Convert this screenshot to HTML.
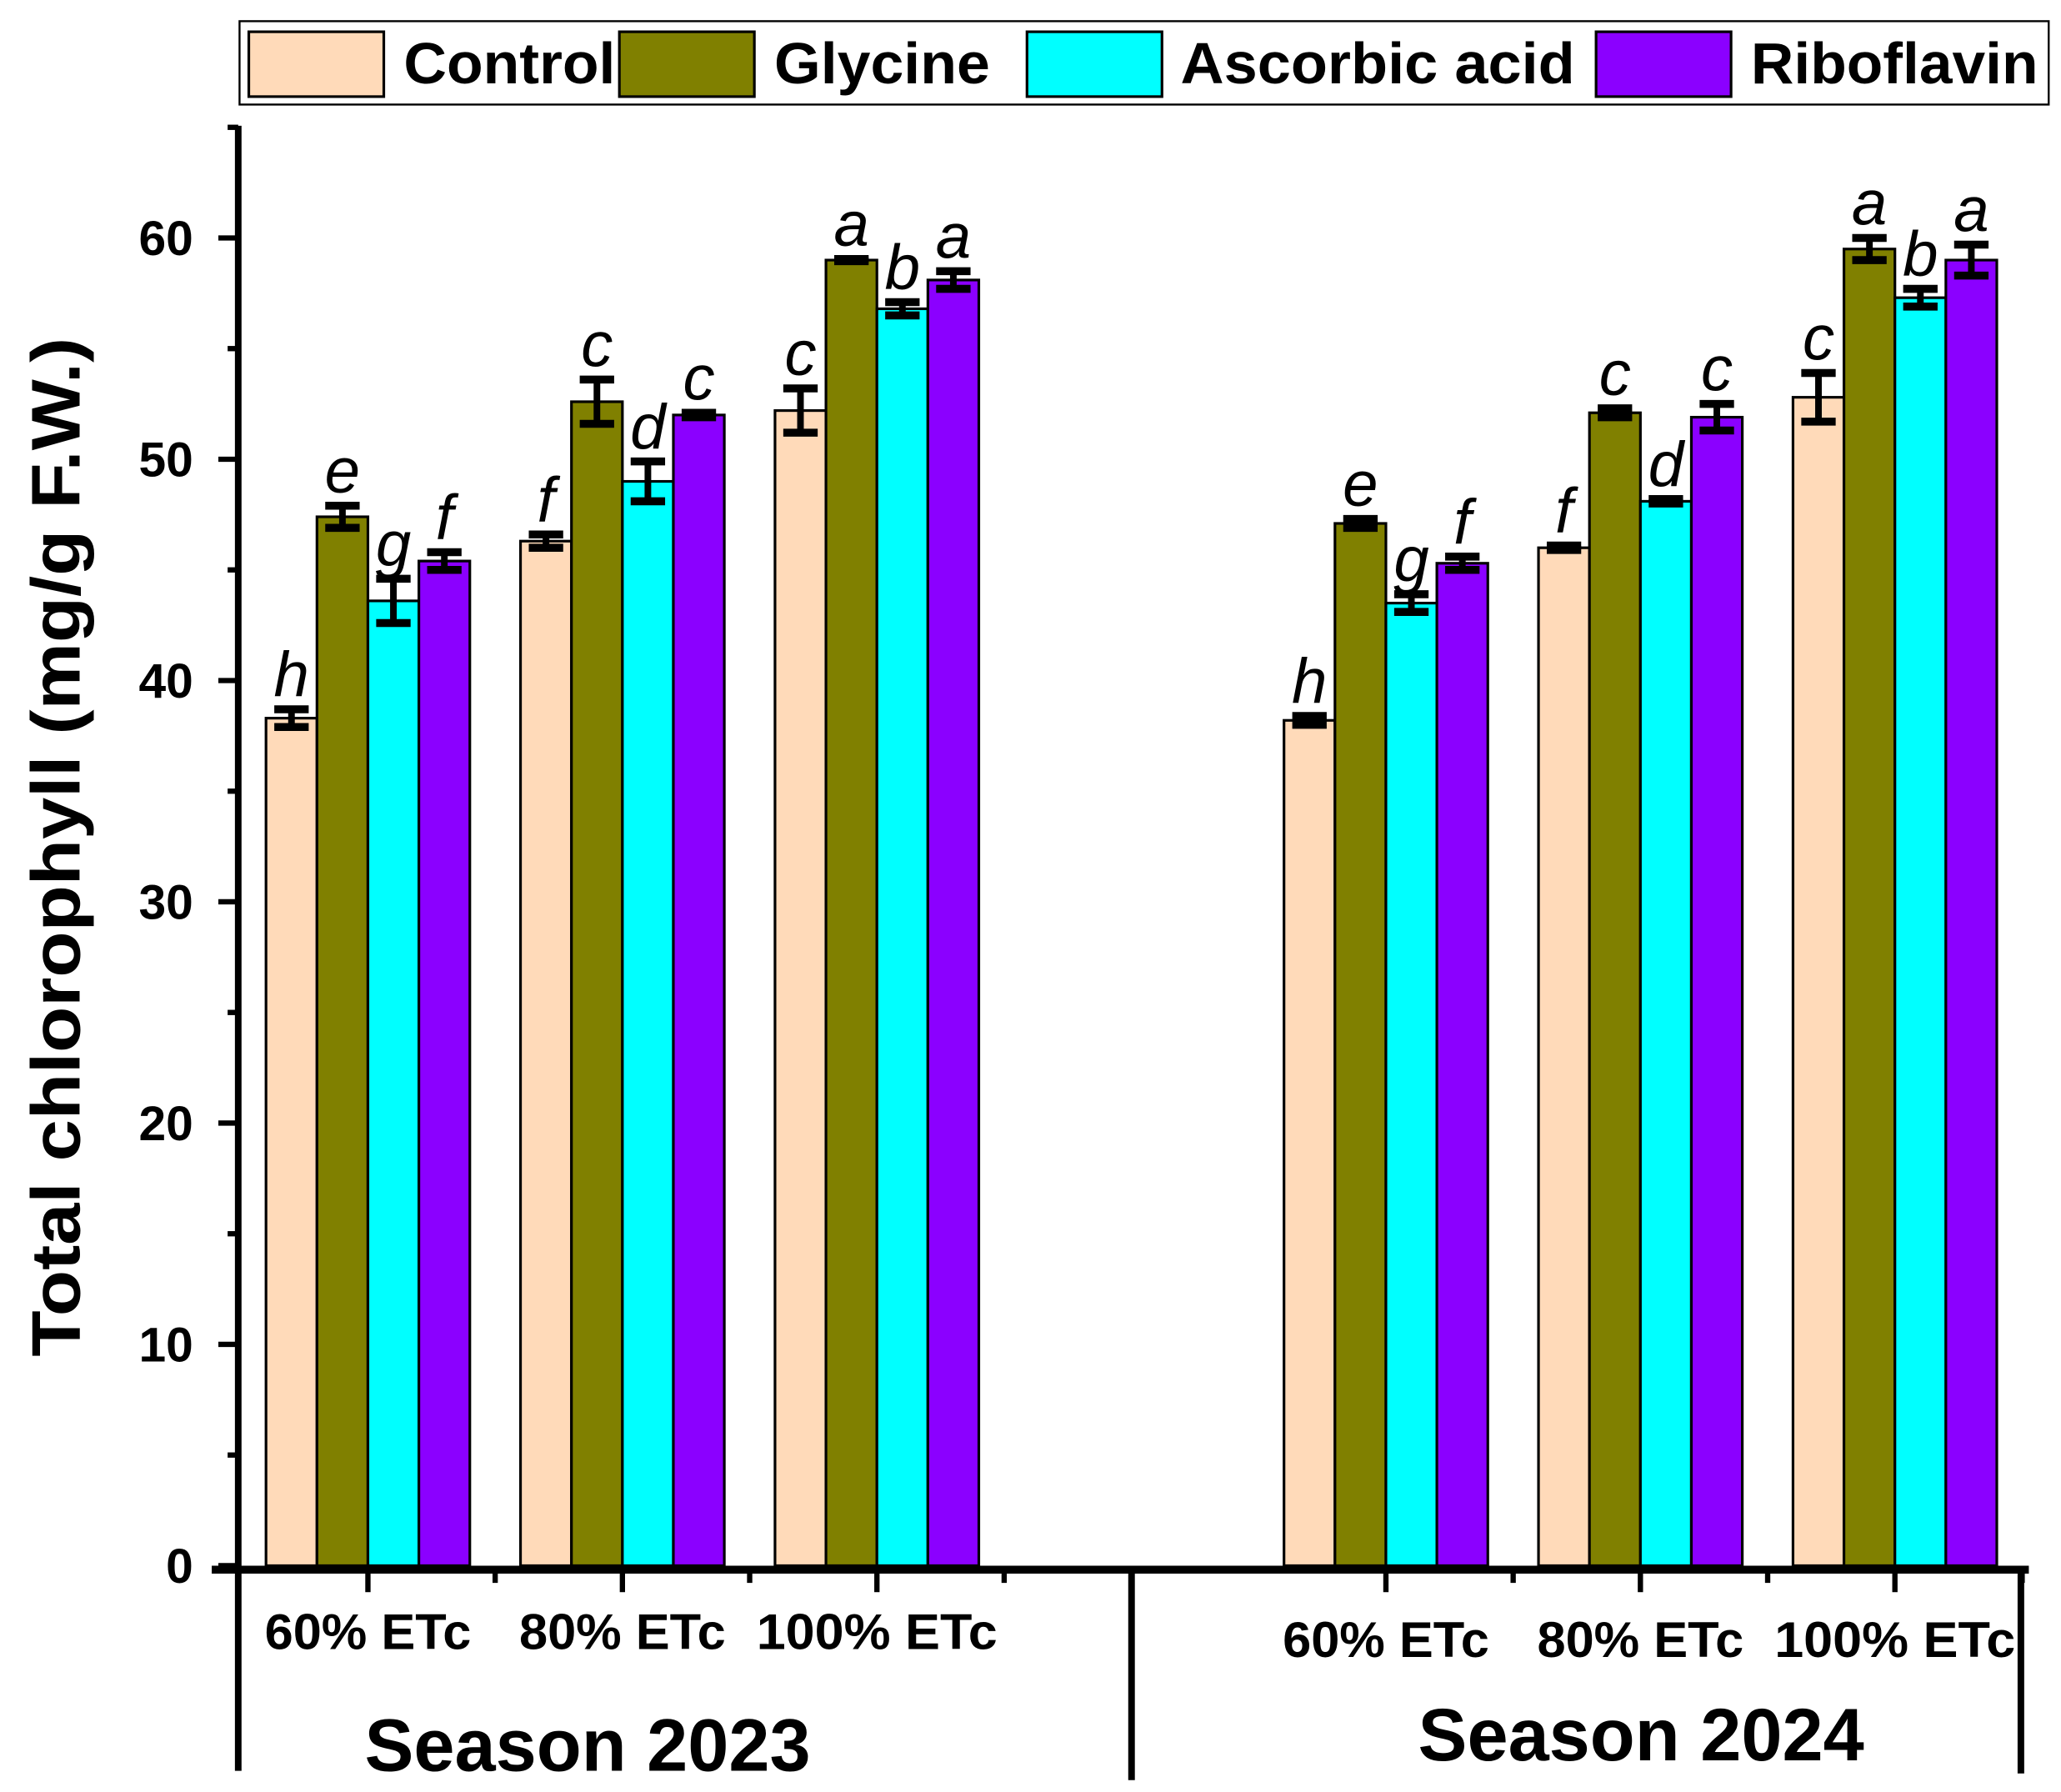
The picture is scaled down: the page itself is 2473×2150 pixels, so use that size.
<!DOCTYPE html>
<html><head><meta charset="utf-8"><style>
html,body{margin:0;padding:0;background:#fff;}
svg{display:block;}
text{font-family:"Liberation Sans",Arial,sans-serif;}
</style></head><body>
<svg id="chart" width="2473" height="2150" viewBox="0 0 1557.3 1354" preserveAspectRatio="none" xmlns="http://www.w3.org/2000/svg"></svg>
<script>
const categories = ["60% ETc","80% ETc","100% ETc"];
const seasons = ["Season 2023","Season 2024"];
const series = ["Control","Glycine","Ascorbic acid","Riboflavin"];
const colors = ["#FFDAB9","#808000","#00FFFF","#8B00FF"];
const values2023 = [[38.3,47.4,43.6,45.4],[46.3,52.6,49.0,52.0],[52.2,59.0,56.8,58.1]];
const errors2023 = [[0.4,0.5,1.0,0.4],[0.3,1.0,0.9,0.1],[1.0,0.05,0.3,0.4]];
const letters2023 = [["h","e","g","f"],["f","c","d","c"],["c","a","b","a"]];
const values2024 = [[38.2,47.1,43.5,45.3],[46.0,52.1,48.1,51.9],[52.8,59.5,57.3,59.0]];
const errors2024 = [[0.2,0.2,0.4,0.3],[0.1,0.2,0.1,0.6],[1.1,0.5,0.4,0.7]];
const letters2024 = [["h","e","g","f"],["f","c","d","c"],["c","a","b","a"]];
const yTicks = [0,10,20,30,40,50,60];

const NS="http://www.w3.org/2000/svg";
const svg=document.getElementById('chart');
function mk(tag,attrs,parent){const e=document.createElementNS(NS,tag);for(const k in attrs)e.setAttribute(k,attrs[k]);(parent||svg).appendChild(e);return e;}
const y0=1183, pxPer=16.72;
function y(v){return y0-v*pxPer;}
const slotW=192.3, firstCenter=278;
function slotCenter(i){return firstCenter+i*slotW;}
const barW=38.5;
const LA='spacingAndGlyphs';

// legend
const lg=mk('g',{});


mk('rect',{x:181,y:16,width:1367,height:63,fill:'#fff',stroke:'#000','stroke-width':1.5},lg);
const legX=[188,468,776,1206];
const legTextX=[305,585,892,1323];
const legTextW=[160,163,298,217];
series.forEach((s,i)=>{
  const g=mk('g',{},lg);
  
  
  mk('rect',{x:legX[i],y:24,width:102,height:49,fill:colors[i],stroke:'#000','stroke-width':2},g);
  const t=mk('text',{x:legTextX[i],y:63,'font-size':44,'font-weight':'bold',textLength:legTextW[i],lengthAdjust:LA},g);
  t.textContent=s;
});

// bars
function drawSeason(vals,errs,lets,offset,sname){
  vals.forEach((row,ci)=>{
    const cx=slotCenter(ci+offset);
    row.forEach((v,si)=>{
      const x=cx-2*barW+si*barW;
      const r=mk('rect',{x:x,y:y(v),width:barW,height:y0-y(v),fill:colors[si],stroke:'#000','stroke-width':2});
      
      
      const ex=x+barW/2, e=errs[ci][si];
      const eb=mk('g',{stroke:'#000','stroke-width':5});
      
      
      mk('line',{x1:ex,x2:ex,y1:y(v+e),y2:y(v-e)},eb);
      mk('line',{x1:ex-13,x2:ex+13,y1:y(v+e),y2:y(v+e),'stroke-width':6},eb);
      mk('line',{x1:ex-13,x2:ex+13,y1:y(v-e),y2:y(v-e),'stroke-width':6},eb);
      const t=mk('text',{x:ex,y:y(v+e)-10,'font-size':48,'font-style':'italic','text-anchor':'middle'});
      
      
      t.textContent=lets[ci][si];
    });
  });
}
drawSeason(values2023,errors2023,letters2023,0,'2023');
drawSeason(values2024,errors2024,letters2024,4,'2024');

// y axis
const ya=mk('g',{});


mk('line',{x1:180,x2:180,y1:95,y2:1188,stroke:'#000','stroke-width':5},ya);
for(let v=0;v<=65;v+=5){
  const major=v%10===0;
  mk('line',{x1:major?165:172,x2:180,y1:y(v),y2:y(v),stroke:'#000','stroke-width':4},ya);
}
yTicks.forEach(v=>{
  const t=mk('text',{x:146,y:y(v)+13,'font-size':37,'font-weight':'bold','text-anchor':'end'},ya);
  t.textContent=v;
});
const yt=mk('text',{x:0,y:0,'font-size':52,'font-weight':'bold','text-anchor':'middle',textLength:770,lengthAdjust:LA,transform:'translate(60,640) rotate(-90)'});


yt.textContent='Total chlorophyll (mg/g F.W.)';

// x axis
const xa=mk('g',{});


mk('line',{x1:160,x2:1533,y1:1186,y2:1186,stroke:'#000','stroke-width':6},xa);
for(let i=0;i<7;i++){
  if(i===3) continue;
  const cx=slotCenter(i);
  mk('line',{x1:cx,x2:cx,y1:1186,y2:1203,stroke:'#000','stroke-width':4},xa);
  mk('line',{x1:cx+slotW/2,x2:cx+slotW/2,y1:1186,y2:1196,stroke:'#000','stroke-width':4},xa);
}
[[180,1338],[855,1345],[1527,1340]].forEach(d=>mk('line',{x1:d[0],x2:d[0],y1:1186,y2:d[1],stroke:'#000','stroke-width':5},xa));
const catW=[156,156,182];
categories.forEach((c,i)=>{
  const t=mk('text',{x:slotCenter(i),y:1246,'font-size':38,'font-weight':'bold','text-anchor':'middle',textLength:catW[i],lengthAdjust:LA},xa);
  t.textContent=c;
  const t2=mk('text',{x:slotCenter(i+4),y:1252,'font-size':38,'font-weight':'bold','text-anchor':'middle',textLength:catW[i],lengthAdjust:LA},xa);
  t2.textContent=c;
});
const s1=mk('text',{x:444,y:1338,'font-size':56,'font-weight':'bold','text-anchor':'middle',textLength:337,lengthAdjust:LA});


s1.textContent=seasons[0];
const s2=mk('text',{x:1240,y:1330,'font-size':56,'font-weight':'bold','text-anchor':'middle',textLength:337,lengthAdjust:LA});


s2.textContent=seasons[1];
</script>
</body></html>
